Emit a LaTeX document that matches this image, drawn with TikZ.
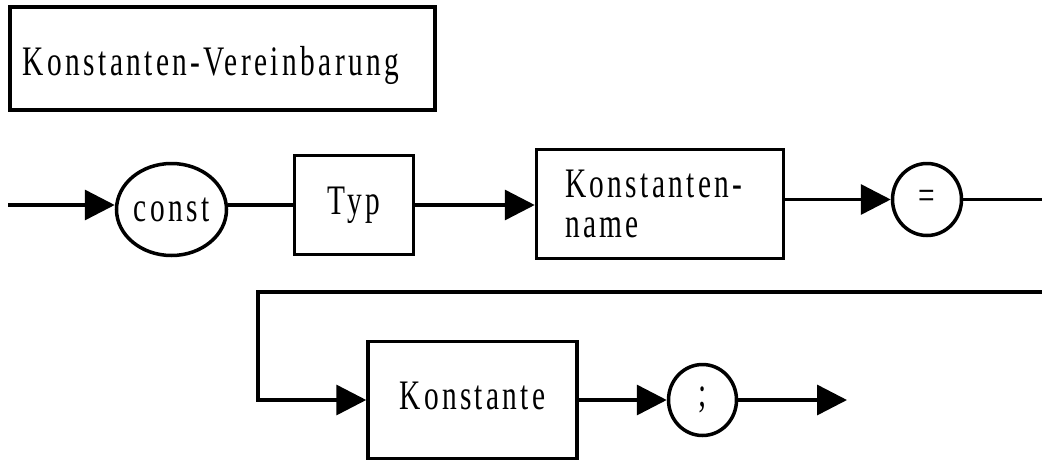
\documentclass[tikz,border=0pt]{standalone}
\usepackage{fontspec}
\setmainfont{Liberation Serif}[FakeStretch=0.7,LetterSpace=8]
\usetikzlibrary{arrows.meta,shapes.geometric}
\begin{document}
\begin{tikzpicture}[x=1pt,y=-1pt,
  line width=3.5pt,
  every node/.style={font=\fontsize{42}{40}\selectfont, inner sep=0pt},
  boxn/.style={draw, rectangle, line width=3.5pt},
  ovaln/.style={draw, ellipse, line width=3.5pt},
  arr/.style={-{Triangle[length=30pt,width=30pt]}}]
\useasboundingbox (0,0) rectangle (1042,464);
% title
\node[boxn, line width=4pt, minimum width=425pt,
      text height=68pt, text depth=35pt] (title) at (222.5,58.5)
      {\makebox[399pt][l]{Konstanten-Vereinbarung}};
% row 1
\node[ovaln, minimum width=110pt, minimum height=92pt] (const) at (171.5,209.5) {const};
\node[boxn, minimum width=119pt, minimum height=99pt] (typ) at (354,205) {Typ};
\node[boxn, text width=190pt, inner xsep=28.5pt, align=left, minimum height=109pt] (kname) at (660,204) {Konstanten-\\name};
\node[ovaln, minimum width=69pt, minimum height=72pt] (eq) at (927,199.5) {=};
% row 2
\node[boxn, minimum width=209pt, text height=67.5pt, text depth=49.5pt] (konst) at (472.5,400) {Konstante};
\node[ovaln, minimum width=68pt, minimum height=71pt] (semi) at (702.5,400) {;};
% free ends
\coordinate (start) at (8,205);
\coordinate (r1end) at (1042,199.5);
\coordinate (r2start) at (1042,292);
\coordinate (loopx) at (258,292);
\coordinate (endpt) at (847,400);
% connectors
\draw[arr] (start) -- (start -| const.west);
\draw (typ.west -| const.east) -- (typ.west);
\draw[arr] (typ.east) -- (typ.east -| kname.west);
\draw[arr] (eq.west -| kname.east) -- (eq.west);
\draw (eq.east) -- (r1end);
\draw[arr] (r2start) -- (loopx) |- (konst.west);
\draw[arr] (konst.east) -- (semi.west);
\draw[arr] (semi.east) -- (endpt);
\end{tikzpicture}
\end{document}
